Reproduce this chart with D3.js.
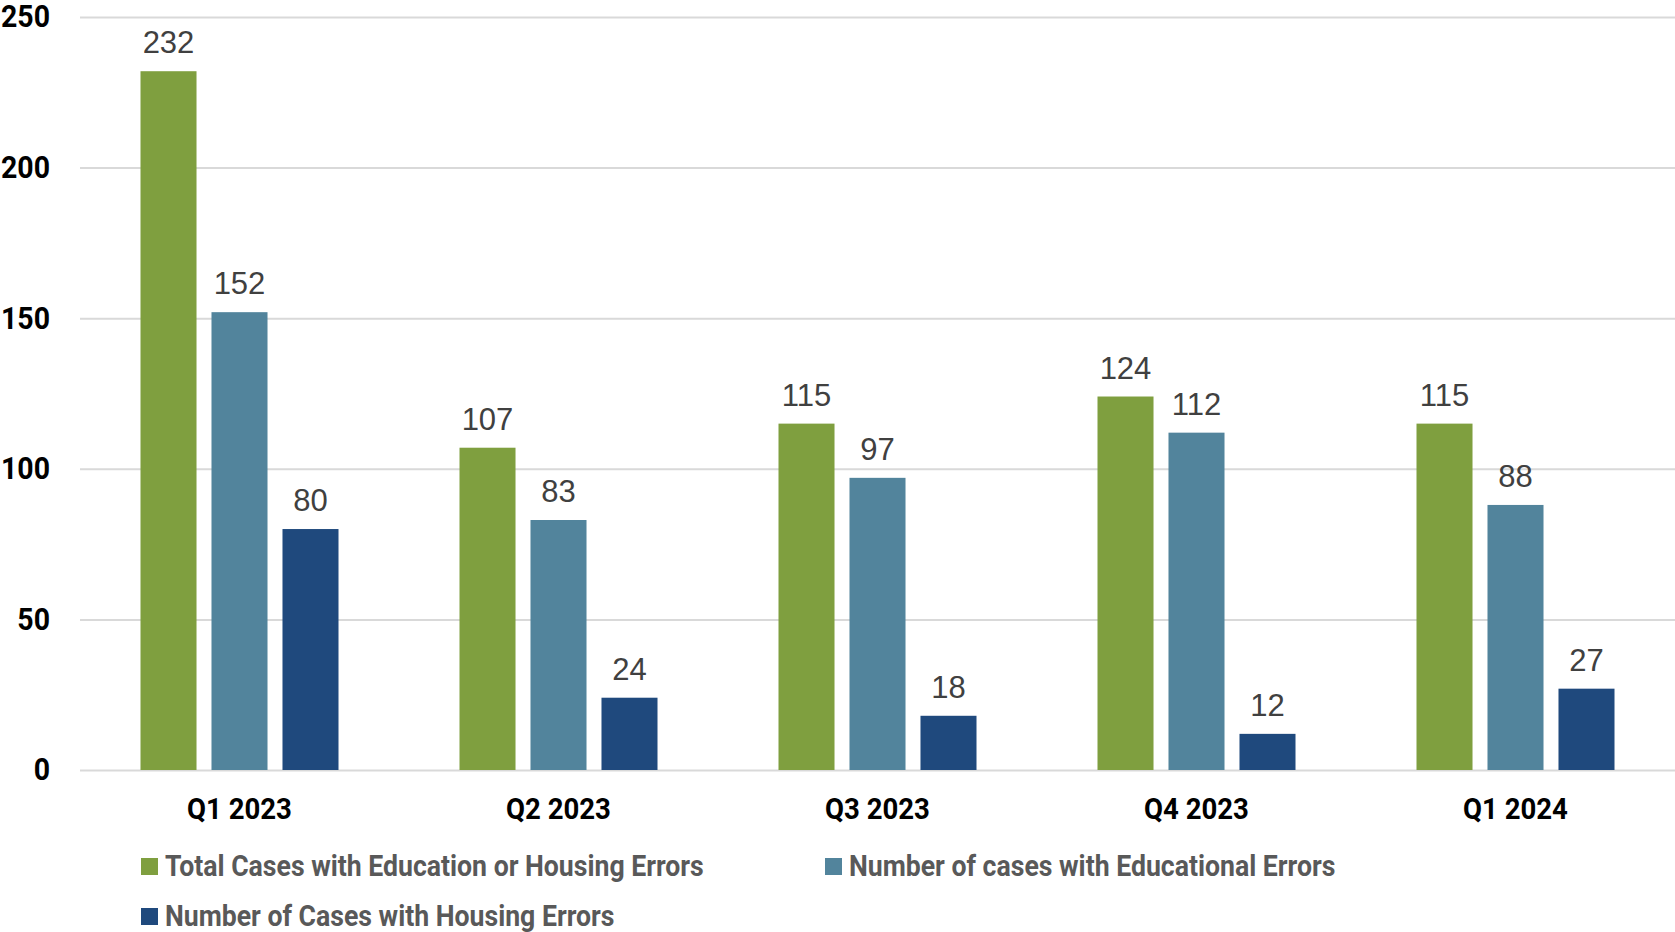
<!DOCTYPE html>
<html>
<head>
<meta charset="utf-8">
<script src="https://cdn.jsdelivr.net/npm/d3@7"></script>
<style>
  body { margin: 0; background: #fff; }
  .cond { font-family: Roboto, "Liberation Sans", sans-serif; font-weight: bold; }
</style>
</head>
<body>
<div id="chart"></div>
<script>
// chart data
const quarters = ["Q1 2023", "Q2 2023", "Q3 2023", "Q4 2023", "Q1 2024"];
const seriesNames = ["Total Cases with Education or Housing Errors",
                     "Number of cases with Educational Errors",
                     "Number of Cases with Housing Errors"];
const totalCases = [232, 107, 115, 124, 115];
const educationCases = [152, 83, 97, 112, 88];
const housingCases = [80, 24, 18, 12, 27];
const yTicks = [0, 50, 100, 150, 200, 250];
const colors = ["#7f9f3f", "#52849c", "#1f497d"];

// set the dimensions and margins of the graph
const margin = {top: 17, right: 0, bottom: 162, left: 80},
    width = 1675 - margin.left - margin.right,
    height = 932 - margin.top - margin.bottom;

let svg = d3.select("#chart")
    .append("svg")
    .attr("width", 1675)
    .attr("height", 932);

let g = svg.append("g")
    .attr("transform", "translate(" + margin.left + "," + margin.top + ")");

let x0 = d3.scaleBand().domain(quarters).range([0, width]).padding(0);
let x1 = d3.scaleBand().domain(d3.range(3))
    .range([60.5, x0.bandwidth() - 60.5])
    .paddingInner(0.211);
let y = d3.scaleLinear().domain([0, 250]).range([height, 0]);

// gridlines + y labels
let yAxis = g.append("g")
    .call(d3.axisLeft(y).tickValues(yTicks).tickSize(-width).tickPadding(30));
yAxis.select(".domain").remove();
yAxis.selectAll("line").attr("stroke", "#d9d9d9").attr("stroke-width", 2);
yAxis.selectAll("text")
    .attr("class", "cond")
    .attr("fill", "#000")
    .style("font-size", "31px");

// x labels
let xAxis = g.append("g")
    .attr("transform", "translate(0," + height + ")")
    .call(d3.axisBottom(x0).tickSize(0).tickPadding(0));
xAxis.select(".domain").remove();
xAxis.selectAll("text")
    .attr("class", "cond")
    .attr("fill", "#000")
    .attr("dy", null)
    .attr("y", 49)
    .style("font-size", "30px");

const series = [totalCases, educationCases, housingCases];
let rows = quarters.map((q, i) => ({q: q, vals: series.map(s => s[i])}));

let groups = g.selectAll(".grp")
    .data(rows)
    .join("g")
    .attr("class", "grp")
    .attr("transform", d => "translate(" + x0(d.q) + ",0)");

groups.selectAll("rect")
    .data(d => d.vals)
    .join("rect")
    .attr("x", (d, i) => x1(i))
    .attr("width", x1.bandwidth())
    .attr("y", d => y(d))
    .attr("height", d => height - y(d))
    .attr("fill", (d, i) => colors[i]);

groups.selectAll(".lbl")
    .data(d => d.vals)
    .join("text")
    .attr("class", "lbl")
    .attr("x", (d, i) => x1(i) + x1.bandwidth() / 2)
    .attr("y", d => y(d) - 18)
    .attr("text-anchor", "middle")
    .attr("fill", "#404040")
    .style("font-family", "'Liberation Sans', Arial, sans-serif")
    .style("font-size", "31px")
    .text(d => d);

// legend
const legendPos = [[141, 858], [825, 858], [141, 908]];
let legend = svg.selectAll(".leg")
    .data(seriesNames)
    .join("g")
    .attr("class", "leg")
    .attr("transform", (d, i) => "translate(" + legendPos[i][0] + "," + legendPos[i][1] + ")");
legend.append("rect")
    .attr("width", 17).attr("height", 17)
    .attr("fill", (d, i) => colors[i]);
legend.append("text")
    .attr("class", "cond")
    .attr("x", 24)
    .attr("y", 18)
    .attr("fill", "#595959")
    .style("font-size", "29px")
    .text(d => d);

// the original font is a condensed bold face: squeeze the bold text horizontally
const firstLegend = legend.select("text").node();
const squeeze = 539 / firstLegend.getComputedTextLength();
svg.selectAll("text.cond").each(function() {
    const t = d3.select(this);
    const x = +t.attr("x") || 0;
    t.attr("transform", "translate(" + x + ",0) scale(" + squeeze + ",1) translate(" + (-x) + ",0)");
});
</script>
</body>
</html>
